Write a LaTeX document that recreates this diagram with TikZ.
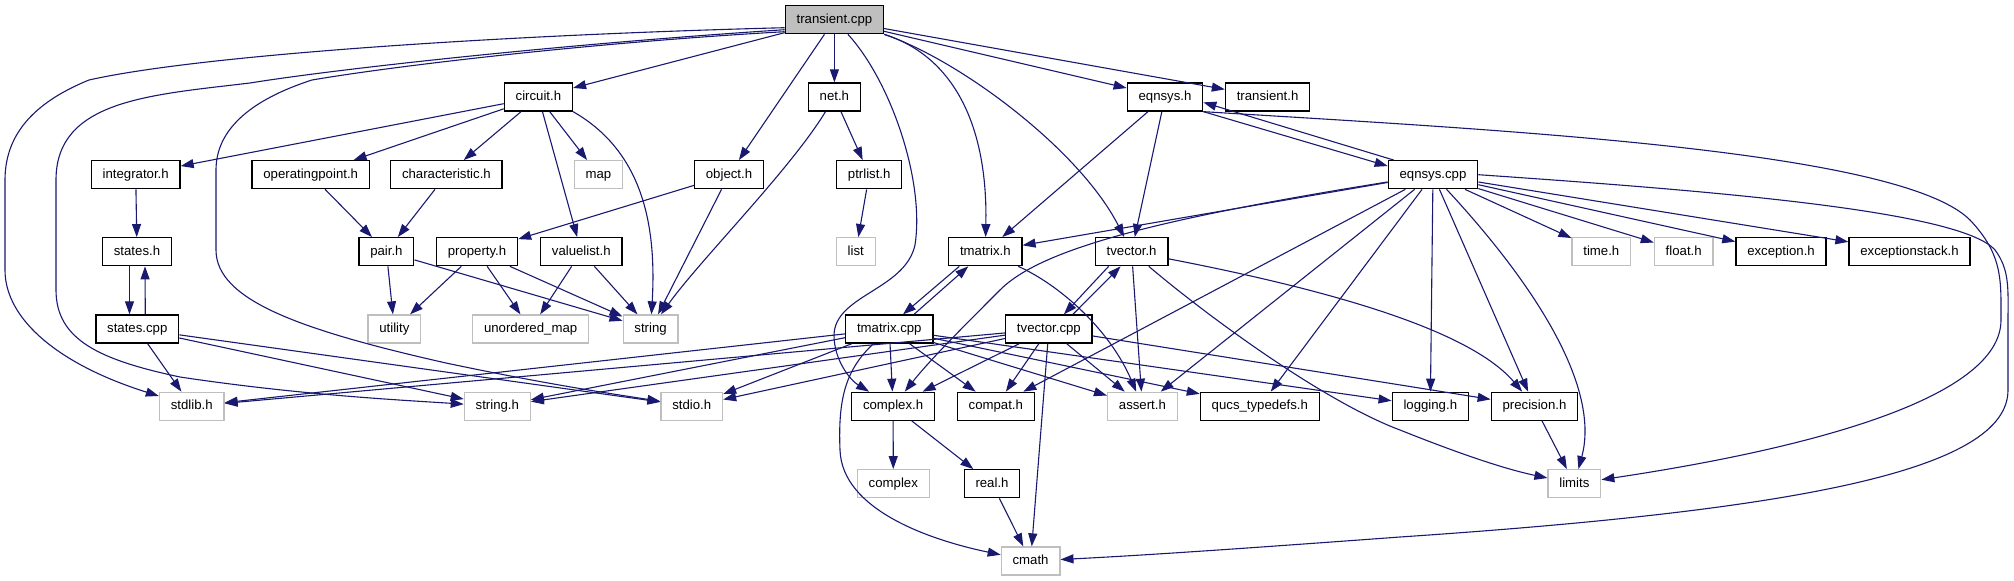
\documentclass[tikz,border=0pt]{standalone}
\usepackage{fontspec}
\setmainfont{Liberation Sans}
\usetikzlibrary{arrows.meta}
\definecolor{edgecol}{RGB}{25,25,112}
\definecolor{sysgray}{RGB}{191,191,191}
\begin{document}
\begin{tikzpicture}[x=1pt,y=-1pt,
  box/.style={draw=black, line width=1.3pt, fill=white, minimum height=28pt, inner xsep=11.3pt, inner ysep=0pt,
    text height=9.6pt, text depth=2.8pt, font=\fontsize{13.2}{15}\selectfont},
  sys/.style={box, draw=sysgray},
  cur/.style={box, fill=sysgray},
  e/.style={draw=edgecol, line width=1.1pt, -{Triangle[length=13pt,width=9pt]}}]
\useasboundingbox (0,0) rectangle (2014,581);
% nodes
\node[cur] (trcpp) at (834.4,19.7) {transient.cpp};
\node[box] (circuit) at (538.4,97) {circuit.h};
\node[box] (neth) at (834.4,97) {net.h};
\node[box] (eqnsysh) at (1165,97) {eqnsys.h};
\node[box] (transh) at (1267.6,97) {transient.h};
\node[box] (integ) at (135.7,174.7) {integrator.h};
\node[box] (oppt) at (310.7,174.7) {operatingpoint.h};
\node[box] (charh) at (446.4,174.7) {characteristic.h};
\node[sys] (map) at (598.4,174.7) {map};
\node[box] (object) at (729,174.7) {object.h};
\node[box] (ptrlist) at (869.2,174.7) {ptrlist.h};
\node[box] (eqcpp) at (1433,174.7) {eqnsys.cpp};
\node[box] (statesh) at (137,251.7) {states.h};
\node[box] (pair) at (386.4,251.7) {pair.h};
\node[box] (prop) at (477,251.7) {property.h};
\node[box] (vlist) at (581.25,251.7) {valuelist.h};
\node[sys] (list) at (855.8,251.7) {list};
\node[box] (tmh) at (985.3,251.7) {tmatrix.h};
\node[box] (tvh) at (1131.6,251.7) {tvector.h};
\node[sys] (timeh) at (1601.3,251.7) {time.h};
\node[sys] (floath) at (1683.7,251.7) {float.h};
\node[box] (exc) at (1781,251.7) {exception.h};
\node[box] (excs) at (1909.5,251.7) {exceptionstack.h};
\node[box] (statescpp) at (137.3,329) {states.cpp};
\node[sys] (utility) at (394.4,329) {utility};
\node[sys] (umap) at (530.6,329) {unordered\_map};
\node[sys] (string) at (650.6,329) {string};
\node[box] (tmcpp) at (889.3,329) {tmatrix.cpp};
\node[box] (tvcpp) at (1048.9,329) {tvector.cpp};
\node[sys] (stdlib) at (191.7,406.3) {stdlib.h};
\node[sys] (stringh) at (497.3,406.3) {string.h};
\node[sys] (stdio) at (691.8,406.3) {stdio.h};
\node[box] (complexh) at (893.1,406.3) {complex.h};
\node[box] (compat) at (995.8,406.3) {compat.h};
\node[sys] (assert) at (1142.4,406.3) {assert.h};
\node[box] (qucs) at (1259.8,406.3) {qucs\_typedefs.h};
\node[box] (logging) at (1430.3,406.3) {logging.h};
\node[box] (prec) at (1534.5,406.3) {precision.h};
\node[sys] (complex) at (893.3,483.7) {complex};
\node[box] (real) at (992,483.7) {real.h};
\node[sys] (limits) at (1574.4,483.7) {limits};
\node[sys] (cmath) at (1030.6,561) {cmath};
% edges from transient.cpp
\draw[e] ([yshift=-8pt]trcpp.west) .. controls (500,35) and (200,55) .. (89,80) .. controls (40,100) and (5,130) .. (5,180) -- (5,270) .. controls (5,320) and (60,365) .. (stdlib);
\draw[e] ([yshift=-10pt]trcpp.west) .. controls (550,45) and (330,70) .. (250,83) .. controls (150,95) and (56,100) .. (56,180) -- (56,290) .. controls (56,340) and (100,360) .. (180,377) .. controls (300,395) and (400,400) .. (stringh);
\draw[e] ([yshift=-12pt]trcpp.west) .. controls (600,42) and (400,65) .. (312,80) .. controls (250,100) and (216,130) .. (216,170) -- (216,250) .. controls (216,300) and (300,330) .. (446,363) .. controls (550,385) and (620,395) .. (stdio);
\draw[e] (trcpp) -- (circuit);
\draw[e] (trcpp) -- (object);
\draw[e] (trcpp) -- (neth);
\draw[e] (trcpp) .. controls (890,80) and (925,180) .. (915,245) .. controls (905,290) and (835,295) .. (834,335) .. controls (834,360) and (850,380) .. (complexh);
\draw[e] (trcpp.south east) .. controls (950,55) and (988,120) .. (tmh);
\draw[e] (trcpp.south east) .. controls (960,60) and (1080,150) .. (tvh);
\draw[e] (trcpp) -- (eqnsysh);
\draw[e] (trcpp) -- (transh);
% circuit.h
\draw[e] (circuit) -- (integ);
\draw[e] (circuit) -- (oppt);
\draw[e] (circuit) -- (charh);
\draw[e] (circuit) -- (map);
\draw[e] (circuit) -- (vlist);
\draw[e] (circuit.south east) .. controls (640,150) and (657,220) .. (string);
% net.h, object.h
\draw[e] (neth) -- (ptrlist);
\draw[e] (ptrlist) -- (list);
\draw[e] (neth) .. controls (790,170) and (700,260) .. (string);
\draw[e] (object) -- (prop);
\draw[e] (object) -- (string);
% pair/property/valuelist
\draw[e] (oppt) -- (pair);
\draw[e] (charh) -- (pair);
\draw[e] (pair) -- (utility);
\draw[e] (pair) -- (string);
\draw[e] (prop) -- (utility);
\draw[e] (prop) -- (umap);
\draw[e] (prop) -- (string);
\draw[e] (vlist) -- (umap);
\draw[e] (vlist) -- (string);
% states
\draw[e] (integ) -- (statesh);
\draw[e] ([xshift=-7.5pt]statesh.south) -- ([xshift=-7.8pt]statescpp.north);
\draw[e] ([xshift=8pt]statescpp.north) -- ([xshift=8pt]statesh.south);
\draw[e] (statescpp) -- (stdlib);
\draw[e] (statescpp) -- (stringh);
\draw[e] (statescpp) -- (stdio);
% eqnsys.h
\draw[e] (eqnsysh) -- (tmh);
\draw[e] (eqnsysh) -- (tvh);
\draw[e] (eqnsysh.south east) -- ([yshift=-6pt]eqcpp.north west);
\draw[e] ([xshift=6pt]eqcpp.north west) -- ([yshift=-20pt]eqnsysh.north east);
\draw[e] (eqnsysh.south east) .. controls (1500,130) and (1900,150) .. (1970,220) .. controls (2003,255) and (2001,280) .. (2001,320) .. controls (2001,400) and (1800,450) .. (limits);
% eqnsys.cpp
\draw[e] (eqcpp) -- (tmh);
\draw[e] (eqcpp) .. controls (1150,220) and (1040,250) .. (1000,290) .. controls (960,330) and (930,360) .. (complexh);
\draw[e] (eqcpp) -- (compat);
\draw[e] (eqcpp) -- (assert);
\draw[e] (eqcpp) -- (qucs);
\draw[e] (eqcpp) -- (logging);
\draw[e] (eqcpp) -- (prec);
\draw[e] (eqcpp) .. controls (1540,290) and (1600,390) .. (limits);
\draw[e] (eqcpp) -- (timeh);
\draw[e] (eqcpp) -- (floath);
\draw[e] (eqcpp) -- (exc);
\draw[e] (eqcpp) -- (excs);
\draw[e] (eqcpp.east) .. controls (1700,190) and (1960,210) .. (1995,250) .. controls (2010,270) and (2008,290) .. (2008,320) -- (2008,390) .. controls (2008,470) and (1800,510) .. (1400,537) .. controls (1250,548) and (1150,555) .. (cmath);
% tmatrix / tvector
\draw[e] ([xshift=-26pt]tmh.south) -- ([xshift=13.7pt]tmcpp.north);
\draw[e] ([xshift=24.7pt]tmcpp.north) -- ([xshift=-17pt]tmh.south);
\draw[e] (tmh) .. controls (1060,285) and (1110,330) .. (assert);
\draw[e] ([xshift=-23pt]tvh.south) -- ([xshift=15pt]tvcpp.north);
\draw[e] ([xshift=24pt]tvcpp.north) -- ([xshift=-11pt]tvh.south);
\draw[e] (tvh) -- (assert);
\draw[e] (tvh) .. controls (1330,290) and (1470,330) .. (prec);
\draw[e] (tvh) .. controls (1200,310) and (1320,400) .. (1400,430) .. controls (1450,450) and (1500,468) .. (limits);
% tmatrix.cpp
\draw[e] (tmcpp) -- (stdlib);
\draw[e] (tmcpp) -- (stringh);
\draw[e] (tmcpp) -- (stdio);
\draw[e] (tmcpp) -- (complexh);
\draw[e] (tmcpp) -- (compat);
\draw[e] (tmcpp) -- (assert);
\draw[e] (tmcpp) -- (qucs);
\draw[e] (tmcpp) -- (logging);
\draw[e] (tmcpp) .. controls (845,370) and (838,400) .. (840,450) .. controls (842,510) and (930,540) .. (cmath);
% tvector.cpp
\draw[e] (tvcpp) -- (stdlib);
\draw[e] (tvcpp) -- (stringh);
\draw[e] (tvcpp) -- (stdio);
\draw[e] (tvcpp) -- (complexh);
\draw[e] (tvcpp) -- (compat);
\draw[e] (tvcpp) -- (assert);
\draw[e] (tvcpp) -- (cmath);
\draw[e] (tvcpp) -- (prec);
% bottom
\draw[e] (complexh) -- (complex);
\draw[e] (complexh) -- (real);
\draw[e] (real) -- (cmath);
\draw[e] (prec) -- (limits);
\end{tikzpicture}
\end{document}
